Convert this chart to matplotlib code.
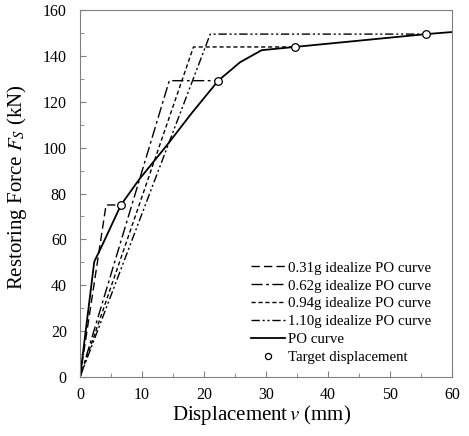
import matplotlib
matplotlib.use("Agg")
import matplotlib.pyplot as plt
from matplotlib.ticker import MultipleLocator

plt.rcParams["font.family"] = ["Liberation Serif", "DejaVu Serif"]
plt.rcParams["mathtext.fontset"] = "stix"

# PO (pushover) curve
po_x = [0, 2.3, 3.5, 6.6, 9.5, 14.0, 18.0, 22.3, 25.8, 29.3, 34.6, 55.8, 60.0]
po_y = [0, 50.3, 57.0, 75.0, 86.0, 101.0, 115.0, 129.2, 137.2, 142.5, 143.9, 149.5, 150.4]

# idealized bilinear curves
ideal_labels = ["0.31g idealize PO curve", "0.62g idealize PO curve",
                "0.94g idealize PO curve", "1.10g idealize PO curve"]
ideal_x = [[0, 4.2, 6.6], [0, 14.4, 22.3], [0, 18.3, 34.6], [0, 21.0, 55.8]]
ideal_y = [[0, 75.0, 75.0], [0, 129.2, 129.2], [0, 143.9, 143.9], [0, 149.5, 149.5]]
ideal_dash = [(0, (6, 3)), (0, (8, 2.5, 2, 2.5)), (0, (3, 2)), (0, (6, 2, 1.5, 2, 1.5, 2))]

# target displacement points
target_x = [6.6, 22.3, 34.6, 55.8]
target_y = [75.0, 129.2, 143.9, 149.5]

fig = plt.figure(figsize=(4.69, 4.36), dpi=100)
ax = fig.add_axes([0.1706, 0.1353, 0.7932, 0.8417])

for xs, ys, lab, ls in zip(ideal_x, ideal_y, ideal_labels, ideal_dash):
    ax.plot(xs, ys, color="black", lw=1.0, linestyle=ls, label=lab)
ax.plot(po_x, po_y, color="black", lw=1.3, label="PO curve")
ax.plot(target_x, target_y, "o", ms=5.5, mfc="white", mec="black", mew=0.9,
        label="Target displacement")

ax.set_xlim(0, 60)
ax.set_ylim(0, 160)
ax.xaxis.set_major_locator(MultipleLocator(10))
ax.xaxis.set_minor_locator(MultipleLocator(5))
ax.yaxis.set_major_locator(MultipleLocator(20))
ax.yaxis.set_minor_locator(MultipleLocator(10))
ax.tick_params(which="both", direction="in", color="0.5", labelsize=11.5)
ax.tick_params(axis="x", which="both", pad=7)
ax.tick_params(axis="y", which="both", pad=9.5)
ax.tick_params(which="major", length=4)
ax.tick_params(which="minor", length=3)
for s in ax.spines.values():
    s.set_color("0.5")

ax.set_xlabel("Displacement$\\,v$ (mm)", fontsize=15)
ax.set_ylabel("Restoring Force $F_S$ (kN)", fontsize=15)
ax.xaxis.set_label_coords(0.487, -0.072)
ax.yaxis.set_label_coords(-0.137, 0.518)

ax.legend(loc="lower right", bbox_to_anchor=(0.984, -0.005), frameon=False, fontsize=10.7,
          handlelength=2.3, handletextpad=0.2, labelspacing=0.3, borderaxespad=0.6,
          markerscale=0.8)

fig.savefig("out.png", dpi=100)
